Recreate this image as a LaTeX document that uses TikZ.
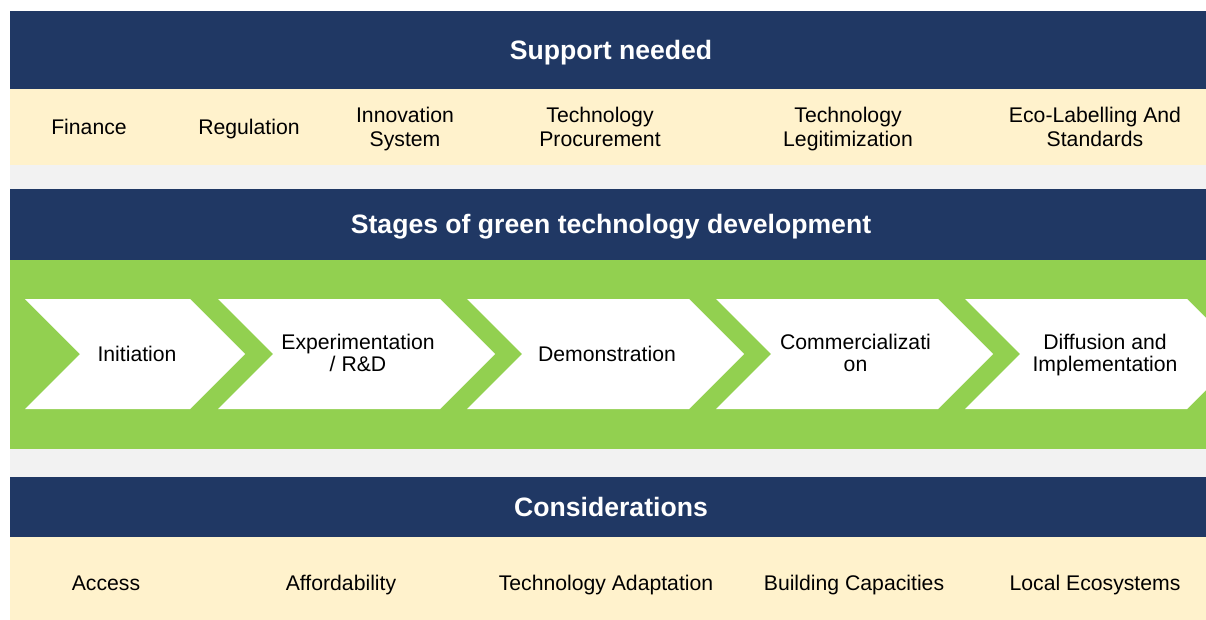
\documentclass[tikz,border=0pt]{standalone}
\usepackage{fontspec}
\setmainfont{Liberation Sans}
\usepackage{xcolor}
\usepackage{tikz}

\definecolor{navyband}{HTML}{203864}
\definecolor{creamband}{HTML}{FFF2CC}
\definecolor{stagegreen}{HTML}{92D050}
\definecolor{gapgray}{HTML}{F2F2F2}

\tikzset{
  banner/.style={anchor=base,text=white,font=\bfseries\fontsize{26.6}{30}\selectfont},
  cell/.style={align=center,text=black,font=\fontsize{21.2}{24}\selectfont,
    inner sep=0pt,execute at begin node=\strut,execute at end node=\strut},
  stagelabel/.style={cell,font=\fontsize{21.2}{22}\selectfont}
}

\begin{document}
\begin{tikzpicture}[x=1pt,y=-1pt]
    \useasboundingbox (0,0) rectangle (1206,620);
    % bands
    \fill[gapgray] (10,11) rectangle (1206,620);
    \fill[navyband] (10,11) rectangle (1206,89);
    \fill[creamband] (10,89) rectangle (1206,165);
    \fill[navyband] (10,189) rectangle (1206,260);
    \fill[stagegreen] (10,260) rectangle (1206,449);
    \fill[navyband] (10,477) rectangle (1206,537);
    \fill[creamband] (10,537) rectangle (1206,620);

    \node[banner] (support) at (611,59.2) {Support needed};
    \node[cell] (finance) at (89,130) {Finance};
    \node[cell] (regulation) at (249,130) {Regulation};
    \node[cell] (innovation) at (405,130) {Innovation\\System};
    \node[cell] (procurement) at (600,130) {Technology\\Procurement};
    \node[cell] (legitimization) at (848,130) {Technology\\Legitimization};
    \node[cell] (ecolabel) at (1095,130) {Eco-Labelling And\\Standards};

    \node[banner] (stages) at (611,233.7) {Stages of green technology development};
    \begin{scope}
      \clip (10,260) rectangle (1206,449);
      \foreach \l/\r in {25/190, 218/440, 467/689, 716/938, 965/1187}
        \fill[white] (\l,299) -- (\r,299) -- (\r+55,354) -- (\r,409)
          -- (\l,409) -- (\l+55,354) -- cycle;
    \end{scope}
    \node[stagelabel] (initiation) at (137,356.6) {Initiation};
    \node[stagelabel] (experiment) at (358,356.6) {Experimentation\\/ R\&D};
    \node[stagelabel] (demo) at (607,356.6) {Demonstration};
    \node[stagelabel] (commercial) at (855.5,356.6) {Commercializati\\on};
    \node[stagelabel] (diffusion) at (1105,356.6) {Diffusion and\\Implementation};

    \node[banner] (considerations) at (611,516.2) {Considerations};
    \node[cell] (access) at (106,585.2) {Access};
    \node[cell] (afford) at (341,585.2) {Affordability};
    \node[cell] (adaptation) at (606,585.2) {Technology Adaptation};
    \node[cell] (capacities) at (854,585.2) {Building Capacities};
    \node[cell] (ecosystems) at (1095,585.2) {Local Ecosystems};
\end{tikzpicture}
\end{document}
